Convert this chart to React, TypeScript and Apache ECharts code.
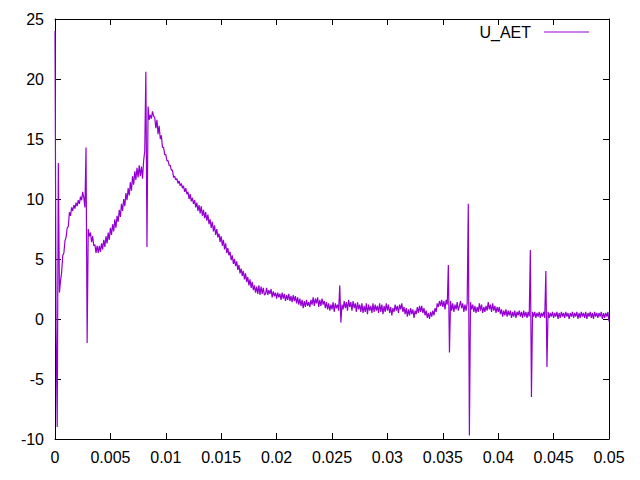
import React, { useEffect, useRef } from "react";
import * as echarts from "echarts";

const seriesName = "U_AET";
const xStep = 0.0001;
const xTicks = [0, 0.005, 0.01, 0.015, 0.02, 0.025, 0.03, 0.035, 0.04, 0.045, 0.05];
const yTicks = [-10, -5, 0, 5, 10, 15, 20, 25];

// U_AET samples, one every 0.0001 s from 0 to 0.05
const uAET = [
  24, -0.8, -9, 13, 2.2, 3.2, 3.9, 5.3, 5.5, 6.5,
  6.8, 7.6, 7.7, 8.9, 8.6, 9.3, 9.0, 9.5, 9.2, 9.7,
  9.4, 9.9, 9.6, 10.2, 9.9, 10.6, 10.1, 9.3, 14.3, -2,
  7.5, 6.9, 7.2, 6.4, 6.9, 6.1, 6.2, 5.5, 6.1, 5.5,
  6.1, 5.6, 6.3, 5.8, 6.6, 6.0, 6.9, 6.3, 7.2, 6.6,
  7.6, 7.0, 7.9, 7.3, 8.3, 7.6, 8.6, 8.1, 9.1, 8.5,
  9.6, 9.0, 10.0, 9.4, 10.5, 9.9, 10.9, 10.3, 11.4, 10.7,
  11.9, 11.2, 12.3, 11.6, 12.6, 11.8, 12.8, 11.9, 12.7, 11.7,
  13.2, 14.0, 20.6, 6.0, 17.7, 16.6, 17.0, 16.7, 17.3, 16.9,
  16.8, 15.9, 16.6, 15.4, 16.1, 15.0, 15.3, 14.3, 14.3, 13.7,
  13.7, 13.2, 13.2, 12.8, 12.8, 12.4, 12.4, 11.8, 11.9, 11.6,
  11.7, 11.3, 11.5, 11.1, 11.3, 10.9, 11.1, 10.6, 10.9, 10.4,
  10.6, 10.0, 10.4, 9.8, 10.1, 9.6, 9.9, 9.3, 9.7, 9.0,
  9.5, 8.8, 9.4, 8.6, 9.1, 8.4, 8.9, 8.2, 8.7, 7.9,
  8.3, 7.6, 8.1, 7.3, 7.8, 7.0, 7.5, 6.8, 7.1, 6.4,
  6.9, 6.1, 6.6, 5.8, 6.3, 5.5, 5.9, 5.3, 5.6, 4.9,
  5.3, 4.6, 5.0, 4.4, 4.8, 4.1, 4.5, 3.8, 4.2, 3.6,
  4.0, 3.3, 3.8, 3.1, 3.5, 2.8, 3.3, 2.6, 3.1, 2.4,
  2.8, 2.2, 2.7, 2.1, 2.8, 2.0, 2.7, 2.1, 2.6, 2.0,
  2.1, 2.6, 2.0, 2.4, 2.1, 2.5, 1.8, 2.3, 1.9, 2.2,
  1.7, 2.2, 1.8, 2.1, 1.6, 2.2, 1.7, 2.1, 1.5, 2.0,
  1.6, 2.1, 1.5, 1.9, 1.4, 2.0, 1.5, 1.9, 1.3, 1.8,
  1.2, 1.7, 1.1, 1.6, 0.9, 1.5, 1.0, 1.6, 1.1, 1.4,
  1.0, 1.6, 1.2, 1.8, 1.1, 1.7, 1.3, 1.8, 1.0, 1.6,
  1.1, 1.7, 1.2, 1.5, 0.9, 1.4, 0.8, 1.3, 0.7, 1.2,
  0.8, 1.4, 0.6, 1.3, 0.9, 1.2, 0.7, 2.8, -0.3, 1.2,
  0.8, 1.5, 0.9, 1.4, 0.7, 1.6, 1.0, 1.4, 0.7, 1.5,
  0.9, 1.3, 0.6, 1.4, 0.8, 1.2, 0.6, 1.3, 0.5, 1.1,
  0.6, 1.3, 0.4, 1.2, 0.7, 1.1, 0.5, 1.3, 0.6, 1.2,
  0.7, 1.1, 0.5, 1.3, 0.6, 1.2, 0.4, 1.1, 0.6, 1.3,
  0.7, 1.2, 0.5, 1.0, 0.3, 0.9, 0.6, 1.2, 0.7, 1.1,
  0.5, 1.2, 0.8, 1.3, 0.6, 1.0, 0.4, 0.9, 0.2, 0.8,
  0.3, 0.9, 0.4, 0.8, 0.1, 0.7, 0.4, 1.0, 0.5, 1.1,
  0.6, 1.1, 0.5, 0.9, 0.3, 0.7, 0.1, 0.5, 0.0, 0.6,
  0.2, 0.7, 0.3, 0.9, 0.6, 1.3, 1.0, 1.5, 1.1, 1.6,
  1.0, 1.5, 0.8, 1.6, 1.2, 4.5, -2.8, 1.5, 0.7, 1.3,
  0.6, 1.2, 0.8, 1.4, 0.7, 1.1, 1.5, 0.9, 1.3, 0.6,
  1.2, 0.7, 1.3, 9.6, -9.7, 1.4, 0.8, 1.2, 0.6, 1.1,
  0.5, 1.0, 0.6, 1.3, 0.7, 1.2, 0.5, 1.0, 0.6, 1.1,
  0.7, 1.4, 0.8, 1.2, 0.6, 1.3, 0.7, 1.1, 0.5, 1.0,
  0.6, 1.0, 0.4, 0.8, 0.2, 0.7, 0.3, 0.8, 0.2, 0.7,
  0.3, 0.7, 0.1, 0.6, 0.2, 0.7, 0.1, 0.6, 0.3, 0.7,
  0.2, 0.6, 0.1, 0.7, 0.2, 0.6, 0.1, 0.6, 0.2, 5.75,
  -6.5, 0.6, 0.2, 0.6, 0.1, 0.5, 0.2, 0.6, 0.1, 0.5,
  0.2, 0.6, 0.1, 4.0, -4.0, 0.6, 0.1, 0.5, 0.2, 0.6,
  0.1, 0.5, 0.2, 0.6, 0.0, 0.5, 0.1, 0.6, 0.2, 0.5,
  0.1, 0.6, 0.2, 0.5, 0.0, 0.5, 0.2, 0.6, 0.1, 0.5,
  0.2, 0.6, 0.0, 0.5, 0.1, 0.6, 0.2, 0.5, 0.1, 0.6,
  0.0, 0.5, 0.2, 0.6, 0.1, 0.5, 0.0, 0.6, 0.2, 0.5,
  0.1, 0.5, 0.2, 0.6, 0.0, 0.5, 0.1, 0.5, 0.2, 0.6,
  -0.2,
];

const FONT = "'Liberation Sans', Arial, sans-serif";
const LINE_COLOR = "#9400D3";

export default function App() {
  const ref = useRef<HTMLDivElement>(null);

  useEffect(() => {
    if (!ref.current) return;
    const chart = echarts.init(ref.current, undefined, { renderer: "svg" });
    const data = uAET.map((v, i) => [Number((i * xStep).toFixed(4)), v]);
    const fmtX = (v: number) => String(parseFloat(v.toFixed(4)));
    const xMin = xTicks[0];
    const xMax = xTicks[xTicks.length - 1];
    const xInt = xTicks[1] - xTicks[0];
    const yMin = yTicks[0];
    const yMax = yTicks[yTicks.length - 1];
    const yInt = yTicks[1] - yTicks[0];
    const axisLine = { show: true, onZero: false, lineStyle: { color: "#000", width: 1 } };
    const tick = { show: true, inside: true, length: 6, lineStyle: { color: "#000", width: 1 } };

    chart.setOption({
      animation: false,
      backgroundColor: "#fff",
      textStyle: { fontFamily: FONT },
      grid: { left: 55, right: 31, top: 19, bottom: 41, containLabel: false },
      legend: {
        data: [seriesName],
        right: 46,
        top: 19,
        align: "right",
        icon: "rect",
        itemWidth: 45,
        itemHeight: 1,
        itemGap: 0,
        itemTextGap: 6,
        textStyle: {
          fontSize: 16,
          color: "#000",
          fontFamily: FONT,
          padding: [0, 8, 0, 0],
        },
      },
      xAxis: [
        {
          type: "value",
          min: xMin,
          max: xMax,
          interval: xInt,
          position: "bottom",
          axisLine,
          axisTick: tick,
          splitLine: { show: false },
          axisLabel: { fontSize: 16, color: "#000", margin: 10, fontFamily: FONT, formatter: fmtX },
        },
        {
          type: "value",
          min: xMin,
          max: xMax,
          interval: xInt,
          position: "top",
          axisLine,
          axisTick: tick,
          splitLine: { show: false },
          axisLabel: { show: false },
        },
      ],
      yAxis: [
        {
          type: "value",
          min: yMin,
          max: yMax,
          interval: yInt,
          position: "left",
          axisLine,
          axisTick: tick,
          splitLine: { show: false },
          axisLabel: { fontSize: 16, color: "#000", margin: 11, fontFamily: FONT },
        },
        {
          type: "value",
          min: yMin,
          max: yMax,
          interval: yInt,
          position: "right",
          axisLine,
          axisTick: tick,
          splitLine: { show: false },
          axisLabel: { show: false },
        },
      ],
      series: [
        {
          name: seriesName,
          type: "line",
          data,
          xAxisIndex: 0,
          yAxisIndex: 0,
          symbol: "none",
          showSymbol: false,
          color: LINE_COLOR,
          lineStyle: { color: LINE_COLOR, width: 1.2 },
          itemStyle: { color: LINE_COLOR },
        },
      ],
    });
    return () => chart.dispose();
  }, []);

  return (
    <div
      ref={ref}
      style={{ position: "fixed", left: 0, top: 0, width: 640, height: 480, background: "#fff" }}
    />
  );
}
